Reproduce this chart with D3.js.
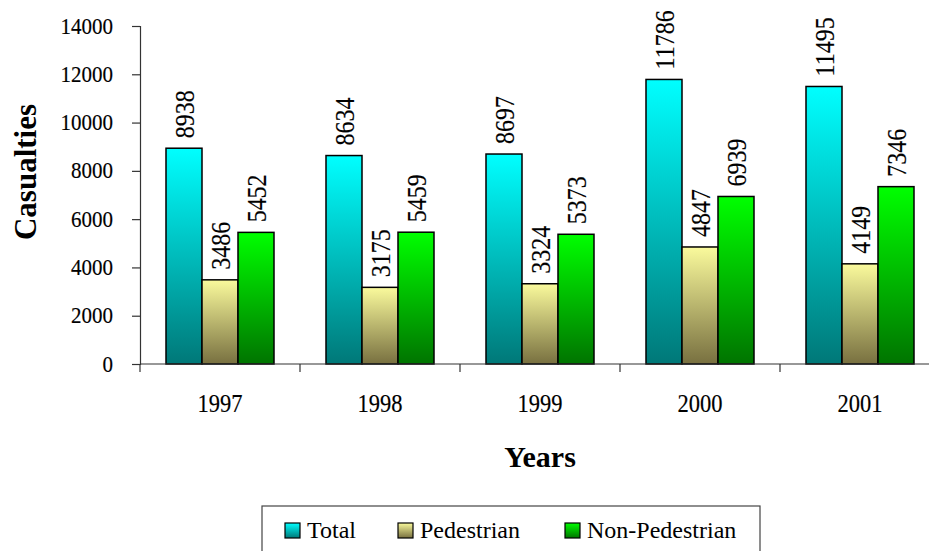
<!DOCTYPE html>
<html>
<head>
<meta charset="utf-8">
<script src="https://cdn.jsdelivr.net/npm/d3@7"></script>
<style>
  body { margin: 0; background: #fff; }
  svg { display: block; }
  svg text { font-family: 'Liberation Serif', 'Times New Roman', serif; }
  .num { stroke: #000; stroke-width: 0.15px; }
</style>
</head>
<body>
<svg id="chart" width="929" height="551"></svg>
<script>
const years = ['1997', '1998', '1999', '2000', '2001'];
const seriesNames = ['Total', 'Pedestrian', 'Non-Pedestrian'];
const total = [8938, 8634, 8697, 11786, 11495];
const pedestrian = [3486, 3175, 3324, 4847, 4149];
const nonPedestrian = [5452, 5459, 5373, 6939, 7346];
const yTicks = [0, 2000, 4000, 6000, 8000, 10000, 12000, 14000];

const seriesValues = [total, pedestrian, nonPedestrian];
// top / bottom of each bar's gradient
const gradColors = [
  ['#00ffff', '#007878'],
  ['#fafa9c', '#787040'],
  ['#00ff00', '#007400']
];

const svg = d3.select('#chart');

const defs = svg.append('defs');
gradColors.forEach(function(c, i) {
  const g = defs.append('linearGradient')
    .attr('id', 'grad' + i)
    .attr('x1', 0).attr('y1', 0).attr('x2', 0).attr('y2', 1);
  g.append('stop').attr('offset', '0%').attr('stop-color', c[0]);
  g.append('stop').attr('offset', '100%').attr('stop-color', c[1]);
});

const x_scale = d3.scaleBand().domain(years).range([140, 940]);
const inner = d3.scaleBand().domain(seriesNames).range([26, 134]);
const y_scale = d3.scaleLinear().domain([0, 14000]).range([364, 26]);

// y axis
const y_axis = d3.axisLeft(y_scale)
  .tickValues(yTicks)
  .tickFormat(d3.format('d'))
  .tickSize(8)
  .tickPadding(19);
const gy = svg.append('g')
  .attr('transform', 'translate(140,0)')
  .call(y_axis);
gy.attr('font-family', null);
gy.select('.domain').attr('stroke', '#333').attr('stroke-width', 1.2);
gy.selectAll('.tick line').attr('stroke', '#333').attr('stroke-width', 1.2);
gy.selectAll('.tick text')
  .attr('class', 'num')
  .attr('font-size', 21)
  .attr('dy', null)
  .attr('transform', 'translate(0,7) scale(1,1.1)')
  .attr('fill', '#000');

// bars
const groups = svg.append('g').selectAll('g')
  .data(years)
  .join('g')
  .attr('transform', d => 'translate(' + x_scale(d) + ',0)');

seriesNames.forEach(function(name, si) {
  groups.append('rect')
    .attr('x', inner(name))
    .attr('width', inner.bandwidth())
    .attr('y', (d, i) => y_scale(seriesValues[si][i]))
    .attr('height', (d, i) => y_scale(0) - y_scale(seriesValues[si][i]))
    .attr('fill', 'url(#grad' + si + ')')
    .attr('stroke', '#000')
    .attr('stroke-width', 1.5);

  groups.append('text')
    .attr('class', 'num')
    .attr('transform', (d, i) => 'translate(' + (inner(name) + inner.bandwidth() / 2) + ',' +
      (y_scale(seriesValues[si][i]) - 10) + ') rotate(-90) scale(1,1.15)')
    .attr('dy', '0.35em')
    .attr('font-size', 24)
    .attr('fill', '#000')
    .text((d, i) => seriesValues[si][i]);
});

// x axis
svg.append('line')
  .attr('x1', 140).attr('x2', 929)
  .attr('y1', y_scale(0)).attr('y2', y_scale(0))
  .attr('stroke', '#333').attr('stroke-width', 1.2);
svg.append('g').selectAll('line')
  .data(years)
  .join('line')
  .attr('x1', d => x_scale(d)).attr('x2', d => x_scale(d))
  .attr('y1', y_scale(0)).attr('y2', y_scale(0) + 8)
  .attr('stroke', '#333').attr('stroke-width', 1.2);
svg.append('g').selectAll('text')
  .data(years)
  .join('text')
  .attr('class', 'num')
  .attr('transform', d => 'translate(' + (x_scale(d) + x_scale.bandwidth() / 2) + ',412) scale(1,1.1)')
  .attr('text-anchor', 'middle')
  .attr('font-size', 22.5)
  .attr('fill', '#000')
  .text(d => d);

// axis titles
svg.append('text')
  .attr('x', 540).attr('y', 467)
  .attr('text-anchor', 'middle')
  .attr('font-size', 30)
  .attr('font-weight', 'bold')
  .text('Years');
svg.append('text')
  .attr('transform', 'translate(36,172) rotate(-90)')
  .attr('text-anchor', 'middle')
  .attr('font-size', 31)
  .attr('font-weight', 'bold')
  .text('Casualties');

// legend
const legend = svg.append('g');
legend.append('rect')
  .attr('x', 262).attr('y', 506)
  .attr('width', 498).attr('height', 60)
  .attr('fill', '#fff')
  .attr('stroke', '#444').attr('stroke-width', 1.2);
const legendX = [285, 398, 565];
seriesNames.forEach(function(name, si) {
  legend.append('rect')
    .attr('x', legendX[si]).attr('y', 523)
    .attr('width', 15).attr('height', 15)
    .attr('fill', 'url(#grad' + si + ')')
    .attr('stroke', '#000').attr('stroke-width', 1.2);
  legend.append('text')
    .attr('x', legendX[si] + 22).attr('y', 538)
    .attr('font-size', 24)
    .text(name);
});
</script>
</body>
</html>
